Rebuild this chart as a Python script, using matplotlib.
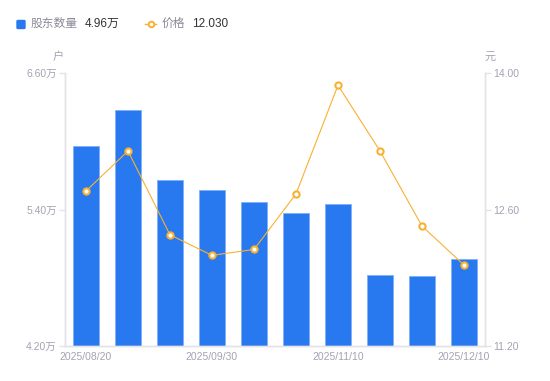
import matplotlib
matplotlib.use("Agg")
import matplotlib.pyplot as plt
from matplotlib.lines import Line2D

plt.rcParams['font.family'] = ['Liberation Sans', 'Noto Sans CJK SC', 'DejaVu Sans']

dates = ["2025/08/20", "2025/08/31", "2025/09/10", "2025/09/30", "2025/10/10",
         "2025/10/20", "2025/11/10", "2025/11/20", "2025/11/30", "2025/12/10"]
holders = [5.96, 6.275, 5.66, 5.57, 5.466, 5.367, 5.446, 4.827, 4.818, 4.962]  # 万户
price = [12.79, 13.20, 12.34, 12.13, 12.19, 12.76, 13.874, 13.20, 12.43, 12.03]
xtick_idx = [0, 3, 6, 9]
left_ticks = [4.20, 5.40, 6.60]
right_ticks = [11.20, 12.60, 14.00]

BLUE = '#2878f0'
ORANGE = '#f8b132'
GRAY = '#a3a3b3'
AXC = '#e3e3e8'

fig = plt.figure(figsize=(5.5, 3.81), dpi=100)
ax = fig.add_axes([65/550, 1-346/381, 420/550, 273/381])
ax2 = ax.twinx()

x = list(range(len(dates)))
ax.bar(x, holders, width=26/42, color=BLUE, edgecolor='#7fb0f8', linewidth=0.6, zorder=2)
ax.set_xlim(-0.5, len(dates) - 0.5)
ax.set_ylim(left_ticks[0], left_ticks[-1])
ax.set_yticks(left_ticks)
ax.set_yticklabels([f"{v:.2f}万" for v in left_ticks])
ax.set_xticks(xtick_idx)
ax.set_xticklabels([dates[i] for i in xtick_idx])

ax2.plot(x, price, color=ORANGE, lw=0.8, marker='o', ms=4.5, mfc='white', mec=ORANGE, mew=1.5, zorder=3)
ax2.set_ylim(right_ticks[0], right_ticks[-1])
ax2.set_yticks(right_ticks)
ax2.set_yticklabels([f"{v:.2f}" for v in right_ticks])

for a in (ax, ax2):
    for s in a.spines.values():
        s.set_color(AXC)
        s.set_linewidth(1)
    a.spines['top'].set_visible(False)
ax.tick_params(axis='y', colors=AXC, labelcolor=GRAY, labelsize=7.5, length=4, width=1, pad=2)
ax.tick_params(axis='x', length=0, labelcolor=GRAY, labelsize=7.5, pad=4)
ax2.tick_params(axis='y', colors=AXC, labelcolor=GRAY, labelsize=7.5, length=4, width=1, pad=2)
ax.set_zorder(1)
ax2.set_zorder(2)
ax.patch.set_visible(False)

fig.text(58/550, 1-57/381, "户", color=GRAY, fontsize=8, ha='center', va='center')
fig.text(490/550, 1-57/381, "元", color=GRAY, fontsize=8, ha='center', va='center')

# legend
fig.patches.append(matplotlib.patches.FancyBboxPatch((17/550, 1-28.5/381), 8/550, 8/381,
                   boxstyle='round,pad=0,rounding_size=0.002', transform=fig.transFigure,
                   color=BLUE, figure=fig))
fig.text(31/550, 1-24/381, "股东数量", color='#8a8a99', fontsize=8.5, va='center')
fig.text(85/550, 1-24/381, f"{holders[-1]:.2f}万", color='#333333', fontsize=8.5, va='center')
fig.lines.append(Line2D([145/550, 156/550], [1-24/381, 1-24/381], transform=fig.transFigure,
                        color=ORANGE, lw=1, figure=fig))
fig.lines.append(Line2D([150.5/550], [1-24/381], transform=fig.transFigure, color=ORANGE,
                        marker='o', ms=4, mfc='white', mec=ORANGE, mew=1.4, figure=fig))
fig.text(162/550, 1-24/381, "价格", color='#8a8a99', fontsize=8.5, va='center')
fig.text(192/550, 1-24/381, f"{price[-1]:.3f}", color='#333333', fontsize=8.5, va='center')

fig.savefig("out.png", dpi=100)
